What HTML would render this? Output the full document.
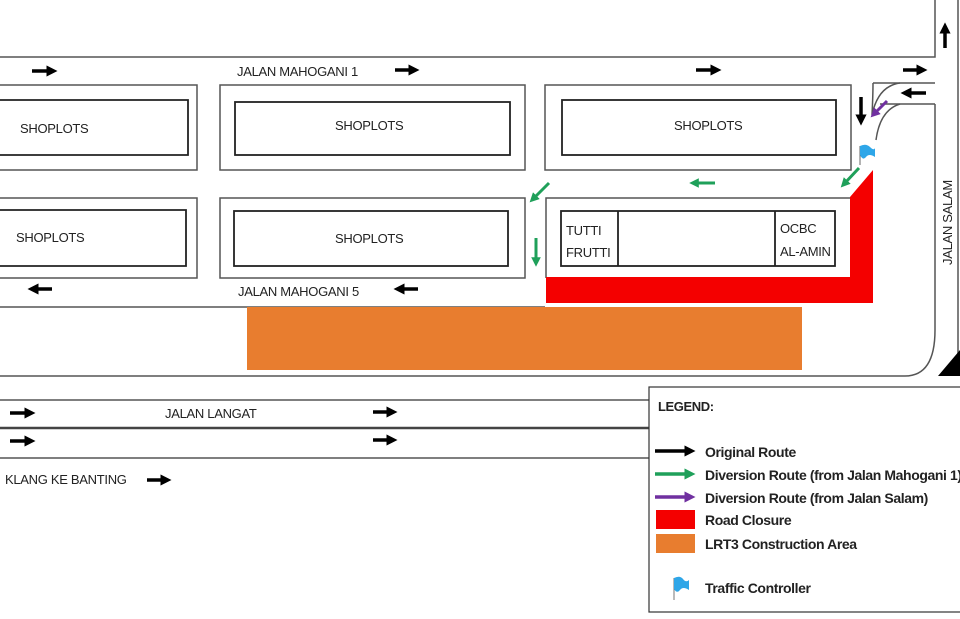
<!DOCTYPE html>
<html><head><meta charset="utf-8"><style>
html,body{margin:0;padding:0;background:#fff;}
svg{display:block;}
text{font-family:"Liberation Sans",sans-serif;fill:#222;}
</style></head><body>
<svg width="960" height="619" viewBox="0 0 960 619" xmlns="http://www.w3.org/2000/svg">
<defs>
<marker id="ab" viewBox="0 0 10 10" refX="5" refY="5" markerWidth="3.2" markerHeight="3.2" orient="auto"><path d="M0,0L10,5L0,10z" fill="#000"/></marker>
<marker id="ag" viewBox="0 0 10 10" refX="5" refY="5" markerWidth="3.2" markerHeight="3.2" orient="auto"><path d="M0,0L10,5L0,10z" fill="#1fa05a"/></marker>
<marker id="ap" viewBox="0 0 10 10" refX="5" refY="5" markerWidth="3.2" markerHeight="3.2" orient="auto"><path d="M0,0L10,5L0,10z" fill="#7030a0"/></marker>
</defs>
<g stroke="#555" stroke-width="1.5" fill="none">
<path d="M0,57H935V0"/>
<path d="M958,0V355"/>
<path d="M873,83H935"/>
<path d="M935,104V330Q935,376 905,376H0"/>
<path d="M880,104H935"/>
<path d="M0,307H545"/>
<path d="M0,85H197V170H0"/>
<rect x="220" y="85" width="305" height="85"/>
<rect x="545" y="85" width="306" height="85"/>
<path d="M0,198H197V278H0"/>
<rect x="220" y="198" width="305" height="80"/>
<path d="M546,278V198H850"/>
<path d="M0,400H650"/>
<path d="M0,458H650"/>
<path d="M873,83Q873,95 872,115M900,83Q878,86 872,115"/>
<path d="M900,104Q880,110 876,140"/>
</g>
<path d="M0,428H650" stroke="#444" stroke-width="2.5"/>
<g stroke="#222" stroke-width="1.8" fill="#fff">
<path d="M0,100H188V155H0"/>
<rect x="235" y="102" width="275" height="53"/>
<rect x="562" y="100" width="274" height="55"/>
<path d="M0,210H186V266H0"/>
<rect x="234" y="211" width="274" height="55"/>
<rect x="561" y="211" width="274" height="55"/>
<path d="M618,211V266M775,211V266" fill="none"/>
</g>
<path d="M546,277H850V197L873,170V303H546z" fill="#f40000"/>
<rect x="247" y="307" width="555" height="63" fill="#e87d2f"/>
<path d="M938,376L960,350V376z" fill="#000"/>
<g stroke="#000" stroke-width="3.5" marker-end="url(#ab)">
<path d="M32,71H52"/><path d="M395,70H414"/><path d="M696,70H716"/><path d="M903,70H922"/>
<path d="M945,48V28"/><path d="M926,93H906"/><path d="M861,97V120"/>
<path d="M52,289H33"/><path d="M418,289H399"/>
<path d="M10,413H30"/><path d="M10,441H30"/><path d="M373,412H392"/><path d="M373,440H392"/>
<path d="M147,480H166"/>
</g>
<g stroke="#1fa05a" stroke-width="3" marker-end="url(#ag)">
<path d="M715,183H694"/><path d="M859,168L844,184"/><path d="M549,183L533,199"/><path d="M536,238V262"/>
</g>
<path d="M887,101L874,114" stroke="#7030a0" stroke-width="3" marker-end="url(#ap)"/>
<path d="M860,146V165" stroke="#666" stroke-width="1"/>
<path d="M860,146Q866,143 870,147T875,148V157Q869,153 866,157T860,155z" fill="#2ea6e8"/>
<g font-size="13" letter-spacing="-0.3">
<text x="237" y="76">JALAN MAHOGANI 1</text>
<text x="238" y="296">JALAN MAHOGANI 5</text>
<text x="20" y="133">SHOPLOTS</text>
<text x="335" y="130">SHOPLOTS</text>
<text x="674" y="130">SHOPLOTS</text>
<text x="16" y="242">SHOPLOTS</text>
<text x="335" y="243">SHOPLOTS</text>
<text x="566" y="235">TUTTI</text>
<text x="566" y="257">FRUTTI</text>
<text x="780" y="233">OCBC</text>
<text x="780" y="256">AL-AMIN</text>
<text x="165" y="418">JALAN LANGAT</text>
<text x="5" y="484">KLANG KE BANTING</text>
<text transform="translate(952,265) rotate(-90)">JALAN SALAM</text>
</g>
<rect x="649" y="387" width="320" height="225" fill="#fff" stroke="#333" stroke-width="1.2"/>
<g font-size="14" font-weight="bold" letter-spacing="-0.4">
<text x="658" y="411" font-size="13">LEGEND:</text>
<text x="705" y="457">Original Route</text>
<text x="705" y="480">Diversion Route (from Jalan Mahogani 1)</text>
<text x="705" y="503">Diversion Route (from Jalan Salam)</text>
<text x="705" y="525">Road Closure</text>
<text x="705" y="549">LRT3 Construction Area</text>
<text x="705" y="593">Traffic Controller</text>
</g>
<path d="M655,451H690" stroke="#000" stroke-width="3.5" marker-end="url(#ab)"/>
<path d="M655,474H690" stroke="#1fa05a" stroke-width="3.5" marker-end="url(#ag)"/>
<path d="M655,497H690" stroke="#7030a0" stroke-width="3.5" marker-end="url(#ap)"/>
<rect x="656" y="510" width="39" height="19" fill="#f40000"/>
<rect x="656" y="534" width="39" height="19" fill="#e87d2f"/>
<path d="M674,578V600" stroke="#777" stroke-width="1"/>
<path d="M674,578Q680,575 683,579T689,580V590Q683,586 680,590T674,589z" fill="#2ea6e8"/>
</svg>
</body></html>
